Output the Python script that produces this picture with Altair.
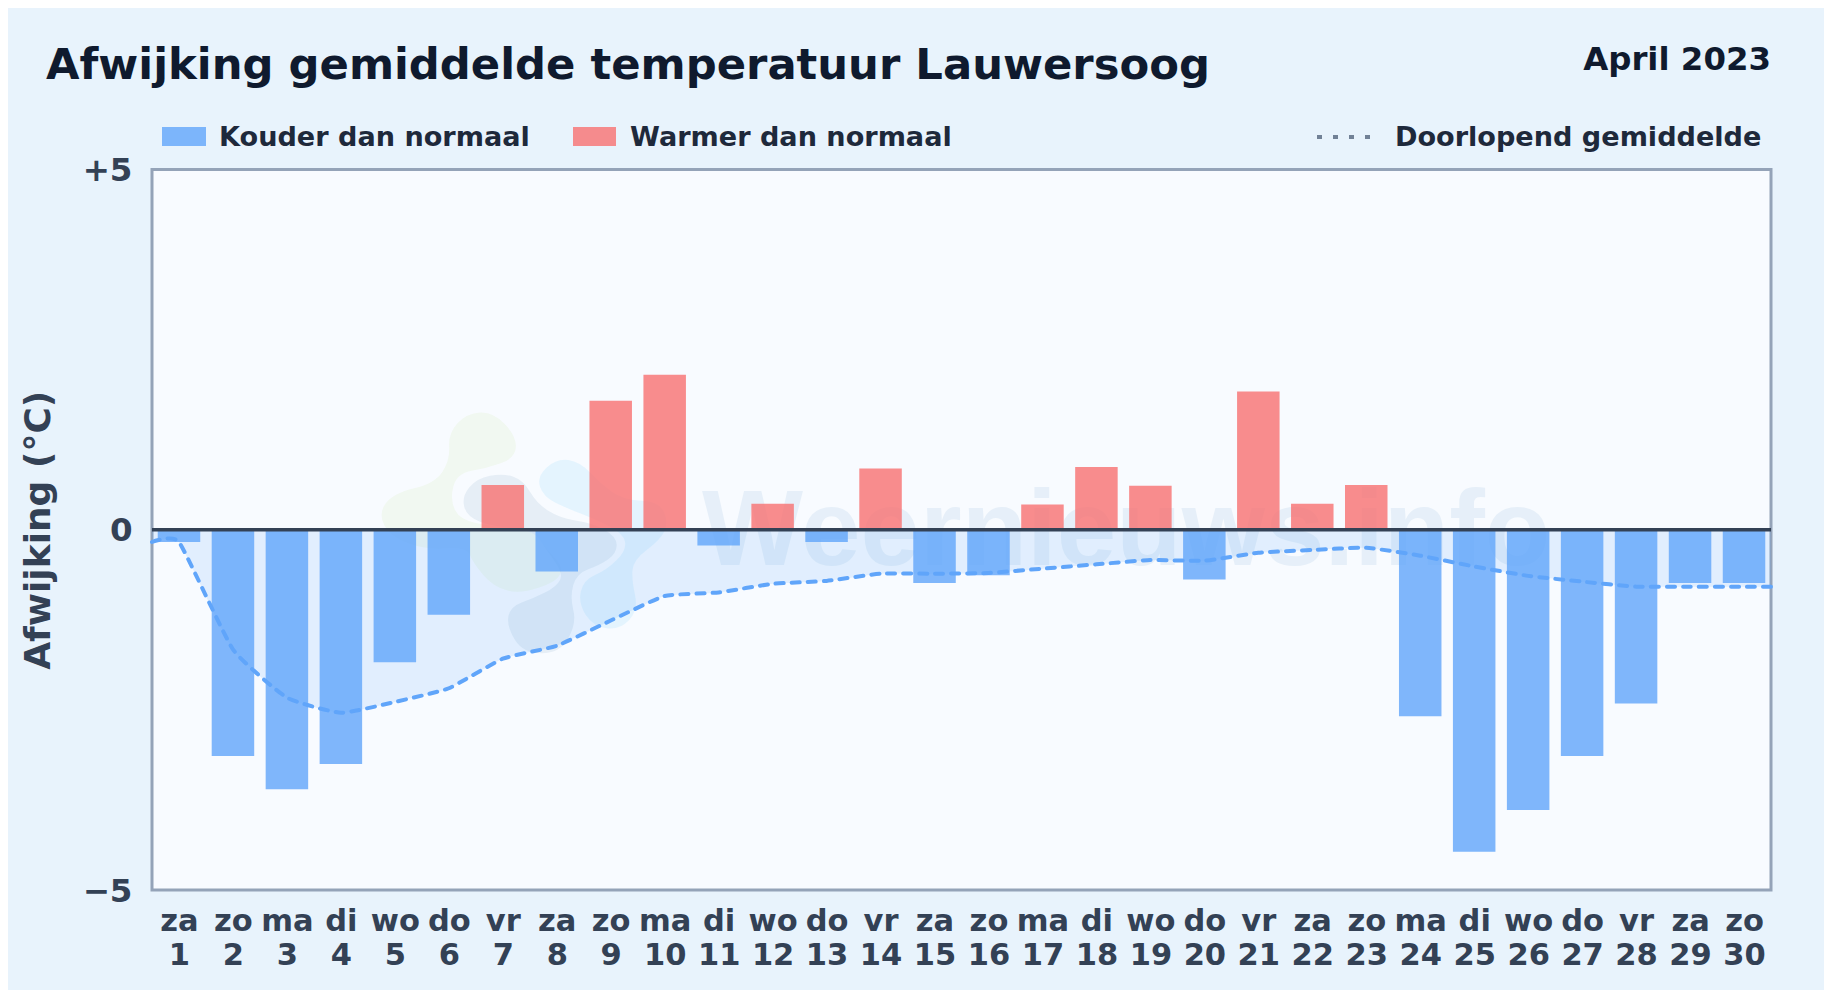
import altair as alt
import pandas as pd

days = list(range(1, 31))
weekdays = ["za","zo","ma","di","wo","do","vr","za","zo","ma","di","wo","do","vr","za",
            "zo","ma","di","wo","do","vr","za","zo","ma","di","wo","do","vr","za","zo"]
anomaly = [-0.17,-3.14,-3.60,-3.25,-1.84,-1.18,0.62,-0.58,1.79,2.15,-0.22,0.36,-0.17,0.85,-0.74,
           -0.63,0.35,0.87,0.61,-0.69,1.92,0.36,0.62,-2.59,-4.47,-3.89,-3.14,-2.41,-0.74,-0.74]
mean_days = [0.5] + days + [30.5]
running_mean = [-0.17,-0.17,-1.66,-2.33,-2.54,-2.39,-2.20,-1.79,-1.61,-1.26,-0.92,-0.87,-0.75,-0.71,
                -0.61,-0.61,-0.60,-0.54,-0.48,-0.42,-0.43,-0.32,-0.28,-0.25,-0.36,-0.51,-0.64,-0.72,
                -0.79,-0.79,-0.79,-0.79]

PAGE = "#e8f3fc"
PLOT = "#f8fbff"
INK = "#0f1a2e"
AXIS = "#334155"
LEG = "#1e293b"
BLUE = "#60a5fa"
RED = "#f87171"
FONT = "DejaVu Sans"
W, H = 1619, 720.5
OX, OY = 152, 169.5

bars = pd.DataFrame({"day": days, "v": anomaly,
                     "kind": ["warm" if v > 0 else "cold" for v in anomaly]})
mean = pd.DataFrame({"day": mean_days, "m": running_mean})
one = alt.Data(values=[{"k": 1}])

x_enc = alt.X("day:Q", scale=alt.Scale(domain=[0.5, 30.5], nice=False, zero=False, padding=0), title=None,
              axis=alt.Axis(values=days, grid=False, ticks=False, domain=False,
                            labelExpr="split([" + ",".join(f"'{w}|{d}'" for w, d in zip(weekdays, days)) +
                                      "][datum.value-1],'|')",
                            labelFontSize=30.5, labelFont=FONT, labelFontWeight="bold", labelColor=AXIS,
                            labelPadding=16, labelOverlap=False, labelBound=False, labelFlush=False,
                            labelLineHeight=34, labelBaseline="top", labelAngle=0))
y_enc = alt.Y("v:Q", scale=alt.Scale(domain=[-5, 5], nice=False),
              axis=alt.Axis(values=[-5, 0, 5], grid=False, ticks=False, domain=False,
                            labelExpr="datum.value > 0 ? '+' + datum.value : datum.value < 0 ? '\u2212' + abs(datum.value) : '0'",
                            labelFontSize=32.5, labelFont=FONT, labelFontWeight="bold", labelColor=AXIS,
                            labelPadding=20, labelOffset=1, labelOverlap=False, labelBound=False, labelFlush=False,
                            title="Afwijking (\u00b0C)", titleFontSize=36, titleFont=FONT,
                            titleFontWeight="bold", titleColor=AXIS, titleX=-94.5, titleY=H / 2,
                            titleAnchor="middle", titleAngle=270))


def text(s, x, y, size, color, align="left"):
    return alt.Chart(one).mark_text(text=s, font=FONT, fontWeight="bold", fontSize=size, color=color,
                                    align=align, baseline="alphabetic").encode(
        x=alt.value(x - OX), y=alt.value(y - OY))


def swatch(x0, x1, y0, y1, color):
    return alt.Chart(one).mark_rect(color=color, opacity=0.8).encode(
        x=alt.value(x0 - OX), x2=alt.value(x1 - OX), y=alt.value(y0 - OY), y2=alt.value(y1 - OY))


def blob(points):
    pts = [(360 + a / 3 - OX, 390 + b / 3 - OY) for a, b in points]
    n = len(pts)
    mid = lambda p, q: ((p[0] + q[0]) / 2, (p[1] + q[1]) / 2)
    s = "M%.1f,%.1f" % mid(pts[-1], pts[0])
    for i in range(n):
        m = mid(pts[i], pts[(i + 1) % n])
        s += "Q%.1f,%.1f,%.1f,%.1f" % (pts[i][0], pts[i][1], m[0], m[1])
    return s + "Z"


green = [(265,130),(320,70),(400,65),(470,140),(465,205),(380,235),(290,250),(270,330),(300,390),(400,410),
         (520,420),(560,480),(610,530),(590,575),(480,612),(400,590),(340,520),(320,470),(200,480),(90,440),
         (55,370),(100,310),(225,280),(270,210)]
slate = [(305,320),(350,265),(430,250),(490,270),(530,340),(600,385),(700,400),(770,440),(770,490),(720,525),
         (650,550),(630,620),(650,700),(600,790),(490,790),(440,710),(450,650),(520,625),(590,590),(610,550),
         (560,480),(520,420),(400,410),(320,380)]
sky = [(530,260),(590,205),(660,215),(720,280),(790,330),(900,335),(925,400),(900,450),(820,510),(815,570),
       (835,660),(780,720),(700,710),(655,640),(670,570),(740,540),(800,480),(790,430),(700,385),(620,355),(550,320)]


def logo(points, color, op):
    return alt.Chart(one).mark_point(shape=blob(points), size=4, filled=True, color=color, opacity=op,
                                     stroke=None).encode(x=alt.value(0), y=alt.value(0))


base_axes = alt.Chart(bars).mark_bar(opacity=0).encode(x=x_enc, y=y_enc)

watermark = alt.Chart(one).mark_text(text="Weernieuws.info", font="Liberation Sans", fontWeight="bold", fontSize=107,
                                     color="#1d6fb8", opacity=0.08, align="left", baseline="alphabetic").encode(
    x=alt.value(702 - OX), y=alt.value(565 - OY))

area = alt.Chart(mean).mark_area(color=BLUE, opacity=0.15, interpolate="cardinal", tension=0.55).encode(
    x="day:Q", y=alt.Y("m:Q"), y2=alt.Y2(datum=0))

bar_marks = alt.Chart(bars).mark_bar(width=42.5, opacity=0.8).encode(
    x="day:Q", y="v:Q", y2=alt.Y2(datum=0),
    color=alt.Color("kind:N", scale=alt.Scale(domain=["cold", "warm"], range=[BLUE, RED]), legend=None))

zero = alt.Chart(one).mark_rule(color=AXIS, strokeWidth=3.5).encode(y=alt.Y(datum=0))

line = alt.Chart(mean).mark_line(color=BLUE, strokeWidth=4, strokeDash=[8, 8], strokeCap="round",
                                 interpolate="cardinal", tension=0.55).encode(x="day:Q", y="m:Q")

legend_dots = alt.Chart(one).mark_rule(color="#64748b", strokeWidth=4, strokeDash=[5, 11], opacity=0.9).encode(
    x=alt.value(1317 - OX), x2=alt.value(1376 - OX), y=alt.value(137 - OY))

chart = alt.layer(
    base_axes,
    logo(green, "#84cc16", 0.06), logo(slate, "#1e5a8a", 0.08), logo(sky, "#38bdf8", 0.10),
    watermark, area, bar_marks, zero, line,
    text("Afwijking gemiddelde temperatuur Lauwersoog", 46, 79, 43.3, INK),
    text("April 2023", 1771, 70, 32.4, INK, "right"),
    swatch(162, 206, 127, 146, BLUE),
    text("Kouder dan normaal", 219, 146, 27.1, LEG),
    swatch(573, 616, 127, 146, RED),
    text("Warmer dan normaal", 630, 146, 27.1, LEG),
    legend_dots,
    text("Doorlopend gemiddelde", 1395, 146, 27.1, LEG),
).properties(
    width=W, height=H,
    autosize=alt.AutoSizeParams(type="none"),
    padding={"left": 144, "top": 161.5, "right": 53, "bottom": 100},
    background=PAGE,
).configure_view(fill=PLOT, stroke="#94a3b8", strokeWidth=3)

chart.save("out.html", embed_options={"renderer": "svg", "actions": False})
